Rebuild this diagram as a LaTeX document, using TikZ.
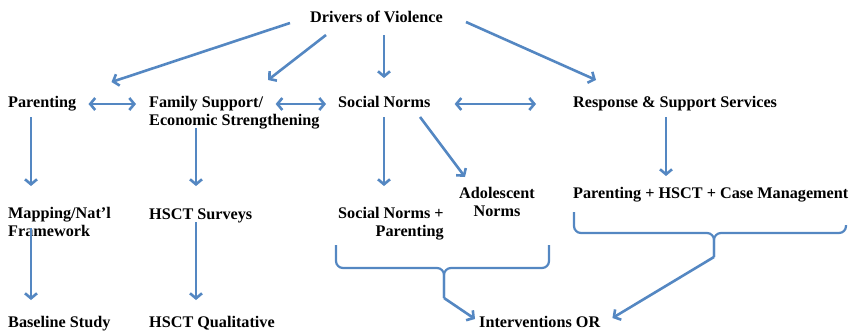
\documentclass[tikz,border=0pt]{standalone}
\usepackage{fontspec}
\setmainfont{Liberation Serif}
\usetikzlibrary{arrows.meta}
\definecolor{linkblue}{RGB}{84,135,194}

\begin{document}
\begin{tikzpicture}[x=1pt, y=-1pt]
    \tikzstyle{label} = [inner sep=0pt, anchor=base west, font=\bfseries\fontsize{16.2}{18}\selectfont]
    \tikzstyle{link} = [draw=linkblue, line width=2.6pt, -{Straight Barb[length=5pt,width=12pt]}]
    \tikzstyle{twoway} = [link, {Straight Barb[length=5pt,width=12pt]}-{Straight Barb[length=5pt,width=12pt]}]
    \tikzstyle{brace} = [draw=linkblue, line width=2.2pt, rounded corners=7pt]

    \useasboundingbox (0,0) rectangle (849,333);

    % Top driver
    \node [label] (drivers) at (310,22) {Drivers of Violence};

    % Areas
    \node [label] (parenting) at (8,107) {Parenting};
    \node [label, align=left] (family) at (149,125) {Family Support/\\Economic Strengthening};
    \node [label] (social) at (338,107) {Social Norms};
    \node [label] (response) at (573,107) {Response \& Support Services};

    % Studies
    \node [label, align=left] (mapping) at (8,236) {Mapping/Nat'l\\Framework};
    \node [label] (surveys) at (149,219) {HSCT Surveys};
    \node [label, align=right] (snparent) at (338,236) {Social Norms +\\Parenting};
    \node [label, align=center] (adolescent) at (459,216) {Adolescent\\Norms};
    \node [label] (casemgmt) at (573,198) {Parenting + HSCT + Case Management};

    % Outcomes
    \node [label] (baseline) at (8,327) {Baseline Study};
    \node [label] (qualitative) at (149,327) {HSCT Qualitative};
    \node [label] (interventions) at (479,327) {Interventions OR};

    % Braces
    \draw [brace] (336,245) |- (444,268) -- (444,298);
    \draw [brace] (549,245) |- (444,268) -- (444,298);
    \coordinate (lefttip) at (444,298);
    \draw [brace] (574,212) |- (714,233) -- (714,257);
    \draw [brace] (846,225) |- (714,233) -- (714,257);
    \coordinate (righttip) at (714,257);

    % Connections
    \draw [link] ([shift={(-20,1)}]drivers.base west) -- ([shift={(35,-25)}]parenting.base east);
    \draw [link] ([shift={(16,13)}]drivers.base west) -- ([shift={(119,-45)}]family.base west);
    \draw [link] ([shift={(74,13)}]drivers.base west) -- ([shift={(46,-29)}]social.base west);
    \draw [link] ([shift={(156,0)}]drivers.base west) -- ([shift={(23,-27)}]response.base west);

    \draw [twoway] ([shift={(12,-3)}]parenting.base east) -- ([shift={(-13,-21)}]family.base west);
    \draw [twoway] ([shift={(-44,-21)}]family.base east) -- ([shift={(-12,-3)}]social.base west);
    \draw [twoway] ([shift={(24,-3)}]social.base east) -- ([shift={(-37,-3)}]response.base west);

    \draw [link] ([shift={(23,10)}]parenting.base west) -- ([shift={(23,-50)}]mapping.base west);
    \draw [link] ([shift={(47,3)}]family.base west) -- ([shift={(47,-33)}]surveys.base west);
    \draw [link] ([shift={(46,10)}]social.base west) -- ([shift={(46,-50)}]snparent.base west);
    \draw [link] ([shift={(82,10)}]social.base west) -- ([shift={(6,-39)}]adolescent.base west);
    \draw [link] ([shift={(93,10)}]response.base west) -- ([shift={(93,-22)}]casemgmt.base west);

    \draw [link] ([shift={(23,-8)}]mapping.base west) -- ([shift={(23,-27)}]baseline.base west);
    \draw [link] ([shift={(47,3)}]surveys.base west) -- ([shift={(47,-27)}]qualitative.base west);

    \draw [link] (lefttip) -- ([shift={(-4,-8)}]interventions.base west);
    \draw [link] (righttip) -- ([shift={(12,-9)}]interventions.base east);
\end{tikzpicture}
\end{document}
